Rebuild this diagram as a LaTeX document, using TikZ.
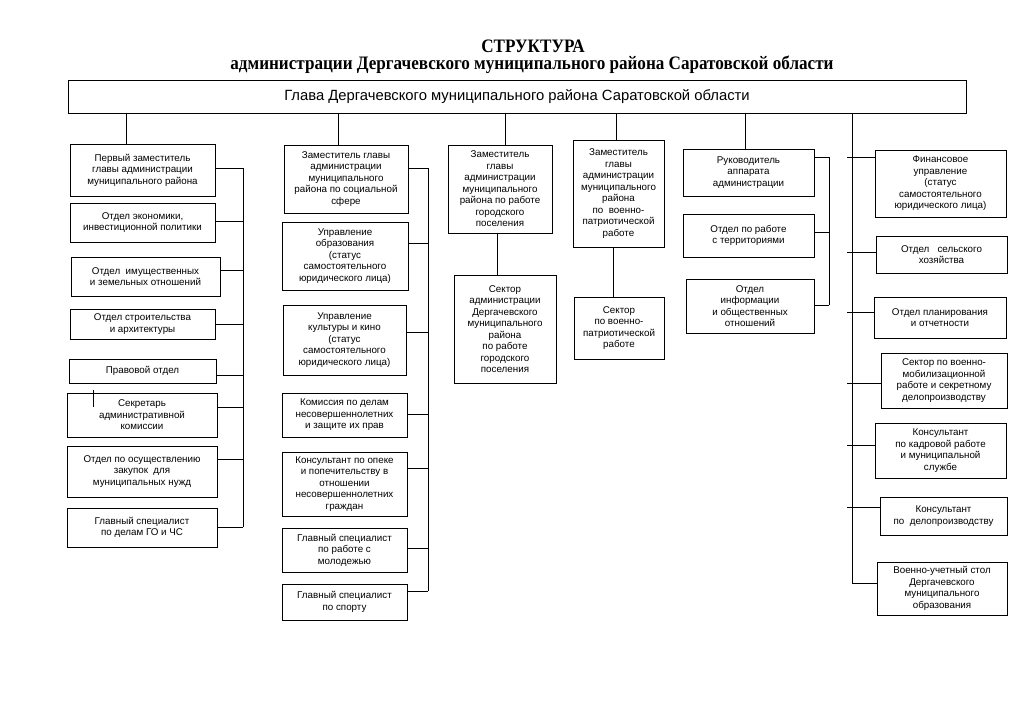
\documentclass[tikz,border=0pt]{standalone}
\usepackage{fontspec}
\setmainfont{Liberation Sans}
\newfontfamily\titlefont[FakeStretch=0.9]{Liberation Serif}
\tikzset{
  box/.style={draw=black, line width=0.9pt, inner sep=0pt, align=center,
    font=\fontsize{9.8}{11.5}\selectfont},
  conn/.style={draw=black, line width=0.9pt},
}
\newcommand\bx[6]{\node[box, minimum width={(#4-#2)*1pt}, minimum height={(#5-#3)*1pt}] (#1) at ({(#2+#4)/2},{(#3+#5)/2}) {#6};}
\begin{document}
\begin{tikzpicture}[x=1pt,y=-1pt]
\useasboundingbox[fill=white] (0,0) rectangle (1024,725);
% title
\node[font=\titlefont\bfseries\fontsize{19}{22}\selectfont] (t1) at (533,46) {СТРУКТУРА};
\node[font=\titlefont\bfseries\fontsize{19}{22}\selectfont] (t2) at (532,65) {администрации Дергачевского муниципального района Саратовской области};
% header
\node[box, font=\fontsize{14.8}{17}\selectfont, minimum width=898pt, minimum height=33pt] (head) at (517,96.5) {Глава Дергачевского муниципального района Саратовской области};
% column 1
\bx{b11}{70}{144}{215}{196}{Первый заместитель\\главы администрации\\муниципального района}
\bx{b12}{70}{203}{215}{242}{Отдел экономики,\\инвестиционной политики}
\bx{b13}{71}{257}{220}{296}{Отдел~~имущественных\\и земельных отношений}
\bx{b14}{70}{309}{215}{339}{Отдел строительства\\и архитектуры}
\bx{b15}{69}{359}{216}{383}{Правовой отдел}
\bx{b16}{67}{393}{217}{437}{Секретарь\\административной\\комиссии}
\bx{b17}{67}{446}{217}{497}{Отдел по осуществлению\\закупок~~для\\муниципальных нужд}
\bx{b18}{67}{508}{217}{547}{Главный специалист\\по делам ГО и ЧС}
% column 2
\bx{b21}{284}{145}{408}{213}{Заместитель главы\\администрации\\муниципального\\района по социальной\\сфере}
\bx{b22}{282}{222}{408}{290}{Управление\\образования\\(статус\\самостоятельного\\юридического лица)}
\bx{b23}{283}{305}{406}{375}{Управление\\культуры и кино\\(статус\\самостоятельного\\юридического лица)}
\bx{b24}{282}{393}{407}{437}{Комиссия по делам\\несовершеннолетних\\и защите их прав}
\bx{b25}{282}{452}{407}{516}{Консультант по опеке\\и попечительству в\\отношении\\несовершеннолетних\\граждан}
\bx{b26}{282}{528}{407}{572}{Главный специалист\\по работе с\\молодежью}
\bx{b27}{282}{584}{407}{620}{Главный специалист\\по спорту}
% column 3
\bx{b31}{448}{145}{552}{233}{Заместитель\\главы\\администрации\\муниципального\\района по работе\\городского\\поселения}
\bx{b32}{454}{275}{556}{383}{Сектор\\администрации\\Дергачевского\\муниципального\\района\\по работе\\городского\\поселения}
% column 4
\bx{b41}{573}{140}{664}{247}{Заместитель\\главы\\администрации\\муниципального\\района\\по~~военно-\\патриотической\\работе}
\bx{b42}{574}{297}{664}{359}{Сектор\\по военно-\\патриотической\\работе}
% column 5
\bx{b51}{683}{149}{814}{196}{Руководитель\\аппарата\\администрации}
\bx{b52}{683}{214}{814}{257}{Отдел по работе\\с территориями}
\bx{b53}{686}{279}{814}{333}{Отдел\\информации\\и общественных\\отношений}
% column 6
\bx{b61}{875}{150}{1006}{217}{Финансовое\\управление\\(статус\\самостоятельного\\юридического лица)}
\bx{b62}{876}{236}{1007}{273}{Отдел~~~сельского\\хозяйства}
\bx{b63}{874}{297}{1006}{338}{Отдел планирования\\и отчетности}
\bx{b64}{881}{353}{1007}{408}{Сектор по военно-\\мобилизационной\\работе и секретному\\делопроизводству}
\bx{b65}{875}{423}{1006}{478}{Консультант\\по кадровой работе\\и муниципальной\\службе}
\bx{b66}{880}{497}{1007}{535}{Консультант\\по~~делопроизводству}
\bx{b67}{877}{562}{1007}{615}{Военно-учетный стол\\Дергачевского\\муниципального\\образования}
% drops from header
\coordinate (d1) at (126,0);
\coordinate (d2) at (338,0);
\coordinate (d3) at (505,0);
\coordinate (d4) at (616,0);
\coordinate (d5) at (745,0);
\draw[conn] (d1 |- head.south) -- (d1 |- b11.north);
\draw[conn] (d2 |- head.south) -- (d2 |- b21.north);
\draw[conn] (d3 |- head.south) -- (d3 |- b31.north);
\draw[conn] (d4 |- head.south) -- (d4 |- b41.north);
\draw[conn] (d5 |- head.south) -- (d5 |- b51.north);
% vertical links col 3,4
\coordinate (v3) at (497,0);
\coordinate (v4) at (613,0);
\draw[conn] (v3 |- b31.south) -- (v3 |- b32.north);
\draw[conn] (v4 |- b41.south) -- (v4 |- b42.north);
% bracket col 1
\coordinate (k11) at (243,168);
\coordinate (k12) at (243,221);
\coordinate (k13) at (243,270);
\coordinate (k14) at (243,324);
\coordinate (k15) at (243,375);
\coordinate (k16) at (243,407);
\coordinate (k17) at (243,459);
\coordinate (k18) at (243,527);
\draw[conn] (k11) -- (k18);
\foreach \i in {1,...,8} {\draw[conn] (b1\i.east |- k1\i) -- (k1\i);}
% stray tick in b16
\coordinate (s16) at (93,390);
\draw[conn] (s16) -- (s16 |- k16);
% bracket col 2
\coordinate (k21) at (428,168);
\coordinate (k22) at (428,243);
\coordinate (k23) at (428,332);
\coordinate (k24) at (428,414);
\coordinate (k25) at (428,468);
\coordinate (k26) at (428,548);
\coordinate (k27) at (428,591);
\draw[conn] (k21) -- (k27);
\foreach \i in {1,...,7} {\draw[conn] (b2\i.east |- k2\i) -- (k2\i);}
% bracket col 5
\coordinate (k51) at (829,157);
\coordinate (k52) at (829,232);
\coordinate (k53) at (829,305);
\draw[conn] (k51) -- (k53);
\foreach \i in {1,2,3} {\draw[conn] (b5\i.east |- k5\i) -- (k5\i);}
% right column
\coordinate (r0) at (852,0);
\coordinate (r7) at (852,583);
\draw[conn] (r0 |- head.south) -- (r7) -- (b67.west |- r7);
\coordinate (k61) at (847,157);
\coordinate (k62) at (847,252);
\coordinate (k63) at (847,312);
\coordinate (k64) at (847,383);
\coordinate (k65) at (847,445);
\coordinate (k66) at (847,507);
\foreach \i in {1,...,6} {\draw[conn] (k6\i) -- (b6\i.west |- k6\i);}
\end{tikzpicture}
\end{document}
